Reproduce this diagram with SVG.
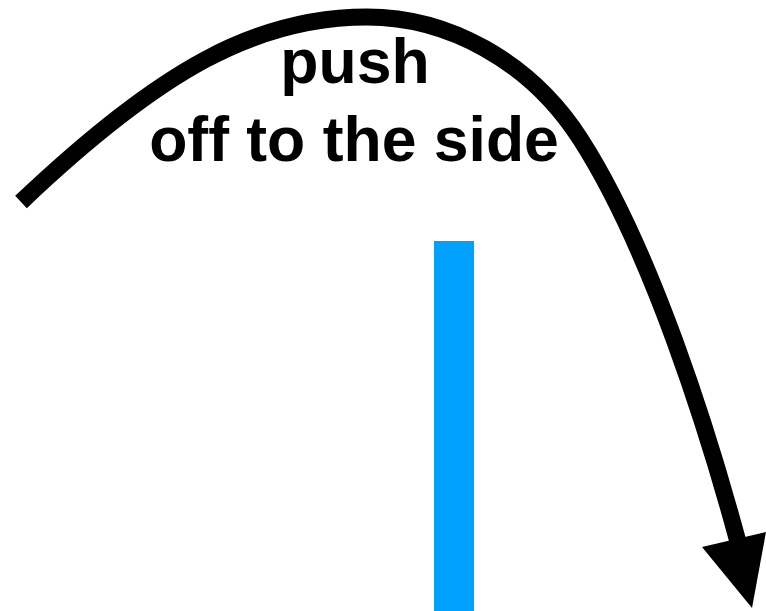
<svg xmlns="http://www.w3.org/2000/svg" width="766" height="611" viewBox="0 0 766 611">
<style>
.lbl{font-family:"Liberation Sans",Arial,Helvetica,sans-serif;font-weight:bold;font-size:62.5px;fill:#000;text-anchor:middle}
.arc{fill:none;stroke:#000;stroke-width:17}
</style>
<rect width="766" height="611" fill="#fff"/>
<g id="bar">
<rect x="434" y="241" width="40" height="370" fill="#00A0FF"/>
</g>
<g id="connectors">
<path class="arc" d="M21,202 C161,69 257,17 367,17 C447,17 529.8,60 581,140 C651.4,250 708.3,432 738,542"/>
<polygon points="702,547 766,532 752,608" fill="#000"/>
</g>
<g id="label">
<text class="lbl" x="355" y="83">push</text>
<text class="lbl" x="354" y="161">off to the side</text>
</g>
</svg>
